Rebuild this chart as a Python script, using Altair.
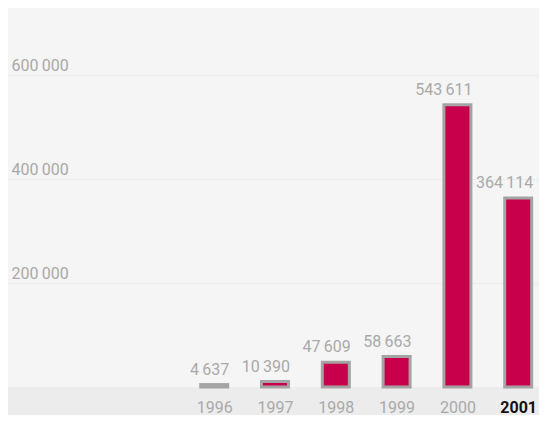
import altair as alt
import pandas as pd

years = [1996, 1997, 1998, 1999, 2000, 2001]
values = [4637, 10390, 47609, 58663, 543611, 364114]
y_ticks = [200000, 400000, 600000]

df = pd.DataFrame({"year": years, "value": values})

FONT = "Roboto"
GRAY = "#a9a9a9"

x = alt.X(
    "year:Q",
    title=None,
    scale=alt.Scale(domain=[1992.69, 2001.26], nice=False, zero=False),
    axis=alt.Axis(
        values=years,
        format="d",
        labelAngle=0,
        labelFont=FONT,
        labelFontSize=16,
        labelColor=alt.expr("datum.value == 2001 ? '#111111' : '#a9a9a9'"),
        labelFontWeight=alt.expr("datum.value == 2001 ? 'bold' : 'normal'"),
        labelPadding=12,
        labelFlush=False,
        ticks=False,
        grid=False,
        domain=False,
    ),
)
y = alt.Y(
    "value:Q",
    title=None,
    scale=alt.Scale(domain=[0, 730000], nice=False),
    axis=alt.Axis(
        values=y_ticks,
        format=",.0f",
        labelFont=FONT,
        labelFontSize=16,
        labelColor=GRAY,
        labelAlign="left",
        labelBaseline="bottom",
        labelOffset=-2,
        labelPadding=-3,
        ticks=False,
        domain=False,
        gridColor="#ebebeb",
        gridWidth=1,
    ),
)

bars = alt.Chart(df).mark_bar(
    color="#c8004b", stroke="#a4a4a4", strokeWidth=3, size=27
).encode(x=x, y=y)

labels = alt.Chart(df).mark_text(
    align="right", baseline="bottom", dx=15, dy=-7, font=FONT, fontSize=16, color=GRAY
).encode(x=x, y=y, text=alt.Text("value:Q", format=",.0f"))

chart = (
    alt.layer(bars, labels)
    .properties(
        width=531,
        height=379,
        background="#ececec",
        padding=0,
        view=alt.ViewBackground(fill="#f5f5f5", strokeWidth=0),
    )
    .configure_view(strokeWidth=0, fill="#f5f5f5")
    .configure(locale={"number": {"decimal": ".", "thousands": "\u2009", "grouping": [3], "currency": ["", ""]}})
)

chart.save("out.html", embed_options={"renderer": "svg", "actions": False})
